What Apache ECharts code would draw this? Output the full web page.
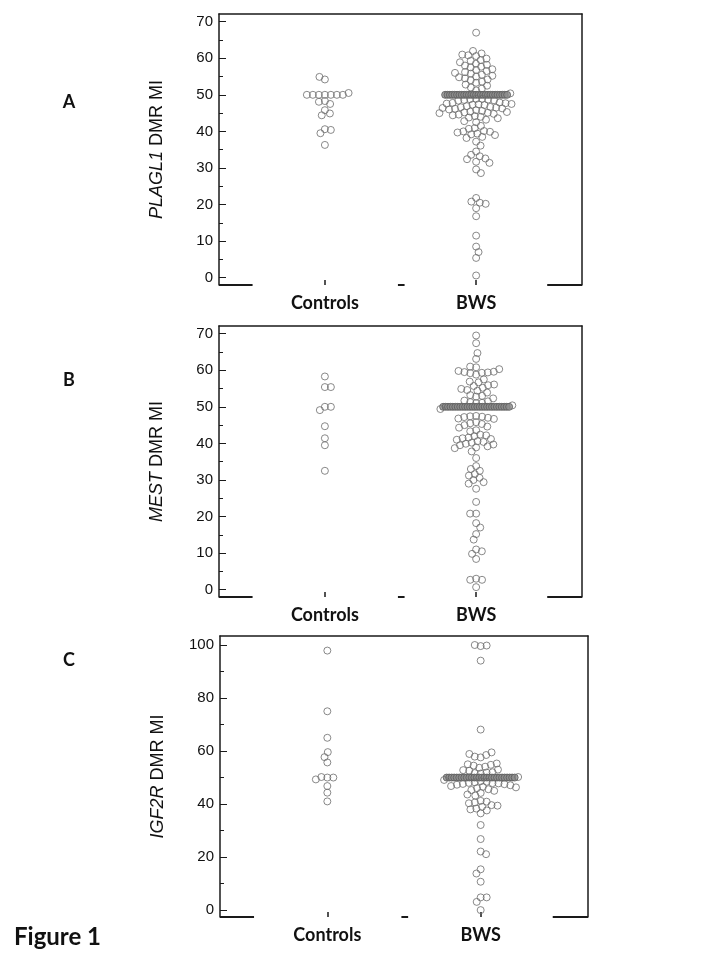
<!DOCTYPE html>
<html><head><meta charset="utf-8">
<script src="https://cdn.jsdelivr.net/npm/echarts@6/dist/echarts.min.js"></script>
<style>html,body{margin:0;padding:0;background:#fff}#c{width:720px;height:960px}</style>
</head><body><div id="c"></div>
<script>
// ---------- data ----------
const categories = ['Controls', 'BWS'];
const panelLetters = ['A', 'B', 'C'];
const genes = ['PLAGL1', 'MEST', 'IGF2R'];
const figureTitle = 'Figure 1';
const yTicksAB = [0, 10, 20, 30, 40, 50, 60, 70];
const yMinorAB = [5, 15, 25, 35, 45, 55, 65];
const yTicksC = [0, 20, 40, 60, 80, 100];
const yMinorC = [10, 30, 50, 70, 90];

const controlsA = [54.9, 54.2, 50.5, 50, 50, 50, 50, 50, 50, 50, 48.3, 48.1, 47.5, 45.8, 44.9, 44.4, 40.6, 40.4, 39.5, 36.3];
const bwsA = [67.0, 62.0, 61.3, 61.0, 60.8, 60.6, 59.9, 59.5, 59.3, 58.9, 58.5, 58.2, 58.0, 57.7, 57.5, 57.0, 56.8, 56.5, 56.2, 56.0,
  55.8, 55.5, 55.2, 55.0, 54.8, 54.5, 54.2, 54.0, 53.6, 53.3, 52.8, 52.5, 52.0, 51.7, 51.2, 50.4,
  50, 50, 50, 50, 50, 50, 50, 50, 50, 50, 50, 50, 50, 50, 50, 50, 50, 50, 50, 50, 50, 50, 50, 50, 50, 50, 50,
  48.9, 48.8, 48.7, 48.6, 48.5, 48.9, 48.4, 47.9, 47.8, 47.7, 47.6, 47.5, 47.4, 47.3, 47.2, 46.9, 46.7, 46.6, 46.5, 46.4,
  46.3, 46.2, 46.0, 45.8, 45.6, 45.4, 45.3, 45.2, 45.1, 45.0, 44.8, 44.6, 44.4, 44.2, 44.0, 43.8, 43.6, 43.2, 42.8, 42.5,
  41.5, 40.9, 40.7, 40.1, 40.0, 39.9, 39.7, 39.4, 39.2, 39.0, 38.5, 38.2, 37.2, 36.1, 34.5, 33.6, 33.2, 32.6, 32.4, 31.7,
  31.4, 29.6, 28.6, 21.8, 20.8, 20.5, 20.2, 19.0, 16.8, 11.5, 8.5, 7.0, 5.4, 0.6];

const controlsB = [58.3, 55.4, 55.4, 50.0, 50.0, 49.1, 44.7, 41.4, 39.5, 32.5];
const bwsB = [69.5, 67.4, 64.7, 63.1, 61.0, 60.8, 60.3, 59.8, 59.6, 59.5, 59.4, 59.3, 59.2, 58.8, 57.5, 56.9, 56.7, 56.1, 55.9, 55.7,
  55.2, 54.9, 54.6, 54.4, 53.9, 53.2, 53.0, 52.8, 52.3, 51.7, 51.5, 51.3, 51.1, 51.0, 50.4,
  50, 50, 50, 50, 50, 50, 50, 50, 50, 50, 50, 50, 50, 50, 50, 50, 50, 50, 50, 50, 50, 50, 50, 50, 50, 50, 50, 50,
  49.4, 47.5, 47.4, 47.3, 47.2, 47.0, 46.8, 46.7, 45.8, 45.5, 45.3, 45.0, 44.6, 44.3, 43.6, 43.3, 42.4, 42.2, 42.0, 41.6,
  41.4, 41.2, 41.0, 40.6, 40.4, 40.2, 39.9, 39.7, 39.5, 39.2, 38.9, 38.7, 37.8, 36.0, 33.8, 33.0, 32.5, 31.6, 31.2, 30.6,
  30.0, 29.4, 29.0, 27.6, 24.0, 20.8, 20.8, 18.2, 17.0, 15.2, 13.7, 11.0, 10.5, 9.8, 8.4, 3.0, 2.7, 2.7, 0.7];

const controlsC = [97.9, 75.0, 65.0, 59.6, 57.7, 55.7, 50.2, 50.0, 50.0, 49.3, 46.8, 44.3, 41.0];
const bwsC = [100.0, 99.8, 99.6, 94.1, 68.1, 59.5, 58.9, 58.5, 57.9, 57.6, 55.3, 55.0, 54.8, 54.5, 54.1, 53.7, 53.0, 52.8, 52.6, 52.0,
  51.9, 51.7, 51.5,
  50, 50, 50, 50, 50, 50, 50, 50, 50, 50, 50, 50, 50, 50, 50, 50, 50, 50, 50, 50, 50, 50, 50, 50, 50, 50, 50, 50,
  50.2, 49.1, 48.6, 48.4, 48.2, 48.0, 47.9, 47.8, 47.6, 47.5, 47.3, 47.1, 46.8, 46.5, 46.3, 46.0, 45.6, 45.3, 45.0, 44.2,
  43.6, 43.2, 41.2, 40.9, 40.6, 40.3, 39.6, 39.4, 39.0, 38.3, 38.0, 37.6, 36.5, 32.1, 26.8, 22.1, 21.1, 15.4, 13.8, 10.7,
  4.8, 4.8, 3.1, 0.0];

// ---------- layout ----------
const XMIN = -0.7, XMAX = 1.7;
const panels = [
  { ctrl: controlsA, bws: bwsA, gene: genes[0], ticks: yTicksAB, minor: yMinorAB,
    grid: { left: 219, top: 14, width: 363, height: 271 }, min: -2, max: 72.1, span: 62, letterY: 102 },
  { ctrl: controlsB, bws: bwsB, gene: genes[1], ticks: yTicksAB, minor: yMinorAB,
    grid: { left: 219, top: 326, width: 363, height: 271 }, min: -2, max: 72.1, span: 66, letterY: 380 },
  { ctrl: controlsC, bws: bwsC, gene: genes[2], ticks: yTicksC, minor: yMinorC,
    grid: { left: 220, top: 636, width: 368, height: 281 }, min: -2.6, max: 103.4, span: 68, letterY: 660 }
];
const bottomSegments = [[-0.7, -0.478], [0.483, 0.527], [1.47, 1.7]];

function swarm(vals, pxPerVal, span) {
  const C = 6, CB = 3.5, MINBAND = 12;
  const pts = vals.map(v => ({ v, y: v * pxPerVal, x: null, band: false }));
  const counts = new Map();
  vals.forEach(v => counts.set(v, (counts.get(v) || 0) + 1));
  let bandV = null;
  counts.forEach((n, v) => {
    if (n >= MINBAND) {
      bandV = v;
      const grp = pts.filter(p => p.v === v);
      const step = span / (n - 1);
      grp.forEach((p, k) => { p.x = -span / 2 + k * step; p.band = true; });
    }
  });
  const placed = pts.filter(p => p.band);
  const ref = bandV === null ? 50 : bandV;
  const rest = pts.filter(p => !p.band).sort((a, b) => Math.abs(a.v - ref) - Math.abs(b.v - ref) || b.v - a.v);
  let alt = 1;
  rest.forEach(p => {
    const cand = [0];
    placed.forEach(q => {
      const c = q.band ? CB : C;
      const dy = Math.abs(q.y - p.y);
      if (dy < c) { const dx = Math.sqrt(c * c - dy * dy); cand.push(q.x + dx, q.x - dx); }
    });
    const ok = x => placed.every(q => {
      const c = q.band ? CB : C; const dy = q.y - p.y, dx = q.x - x;
      return dx * dx + dy * dy >= c * c - 1e-3;
    });
    const nearBand = bandV !== null && Math.abs(p.y - bandV * pxPerVal) < CB;
    const pref = nearBand ? (p.v >= bandV ? 1 : -1) : alt;
    let best = null;
    cand.forEach(x => {
      if (!ok(x)) return;
      if (best === null || Math.abs(x) < Math.abs(best) - 1e-6 ||
          (Math.abs(Math.abs(x) - Math.abs(best)) <= 1e-6 && Math.sign(x) === pref)) best = x;
    });
    p.x = best;
    if (!nearBand && Math.abs(best) > 1e-6) alt = -alt;
    placed.push(p);
  });
  return pts;
}

const FRAME = '#1a1a1a';
const DOT = { color: 'rgba(255,255,255,0)', borderColor: '#6b6b6b', borderWidth: 1 };
const BAND = { color: '#8c8c8c', borderColor: '#5a5a5a', borderWidth: 1 };
const grids = [], xAxes = [], yAxes = [], series = [], graphics = [];
panels.forEach((P, i) => {
  grids.push(Object.assign({ containLabel: false }, P.grid));
  const pxPerVal = P.grid.height / (P.max - P.min);
  const unitsPerPx = (XMAX - XMIN) / P.grid.width;
  xAxes.push({
    gridIndex: i, type: 'value', min: XMIN, max: XMAX, position: 'bottom',
    axisLine: { show: false, onZero: false }, splitLine: { show: false },
    axisTick: { show: true, inside: true, length: 5, customValues: [0, 1], lineStyle: { color: FRAME, width: 1.5 } },
    axisLabel: { customValues: [0, 1], formatter: v => categories[Math.round(v)],
      fontFamily: 'Lato', fontWeight: 'bold', fontSize: 18, color: '#111', margin: 9 }
  });
  xAxes.push({
    gridIndex: i, type: 'value', min: XMIN, max: XMAX, position: 'top',
    axisLine: { show: true, onZero: false, lineStyle: { color: FRAME, width: 1.5 } },
    axisTick: { show: false }, axisLabel: { show: false }, splitLine: { show: false }
  });
  yAxes.push({
    gridIndex: i, type: 'value', min: P.min, max: P.max, position: 'left',
    axisLine: { show: true, onZero: false, lineStyle: { color: FRAME, width: 1.5 } },
    axisTick: { show: true, inside: true, length: 7, customValues: P.ticks, lineStyle: { color: FRAME, width: 1 } },
    axisLabel: { customValues: P.ticks, fontFamily: 'Liberation Sans', fontSize: 15, color: '#111', margin: 6 },
    splitLine: { show: false },
    name: '{i|' + P.gene + '} DMR MI', nameLocation: 'middle', nameRotate: 90, nameGap: 53, nameMoveOverlap: false,
    nameTextStyle: { fontFamily: 'Liberation Sans', fontSize: 18, color: '#111',
      rich: { i: { fontFamily: 'Liberation Sans', fontSize: 18, fontStyle: 'italic', color: '#111' } } }
  });
  yAxes.push({
    gridIndex: i, type: 'value', min: P.min, max: P.max, position: 'left',
    axisLine: { show: false, onZero: false }, splitLine: { show: false }, axisLabel: { show: false },
    axisTick: { show: true, inside: true, length: 4, customValues: P.minor, lineStyle: { color: FRAME, width: 1 } }
  });
  yAxes.push({
    gridIndex: i, type: 'value', min: P.min, max: P.max, position: 'right',
    axisLine: { show: true, onZero: false, lineStyle: { color: FRAME, width: 1.5 } },
    axisTick: { show: false }, axisLabel: { show: false }, splitLine: { show: false }
  });
  [P.ctrl, P.bws].forEach((vals, ci) => {
    const pts = swarm(vals, pxPerVal, P.span);
    const s = {
      type: 'scatter', xAxisIndex: i * 2, yAxisIndex: i * 3, silent: true,
      symbol: 'circle', symbolSize: 7,
      itemStyle: DOT,
      data: pts.map(p => p.band ? { value: [ci + p.x * unitsPerPx, p.v], itemStyle: BAND }
                                 : [ci + p.x * unitsPerPx, p.v])
    };
    if (ci === 0) {
      s.markLine = {
        silent: true, symbol: ['none', 'none'], label: { show: false },
        lineStyle: { color: FRAME, width: 2, type: 'solid' },
        data: bottomSegments.map(sg => [{ coord: [sg[0], P.min] }, { coord: [sg[1], P.min] }])
      };
    }
    series.push(s);
  });
  graphics.push({ type: 'text', x: 69, y: P.letterY, style: { text: panelLetters[i],
    font: 'bold 18px Lato', fill: '#111', align: 'center', verticalAlign: 'middle' } });
});
graphics.push({ type: 'text', x: 14, y: 937, style: { text: figureTitle,
  font: 'bold 24px Lato', fill: '#111', align: 'left', verticalAlign: 'middle' } });

const chart = echarts.init(document.getElementById('c'), null, { renderer: 'canvas' });
chart.setOption({
  animation: false, backgroundColor: '#fff',
  grid: grids, xAxis: xAxes, yAxis: yAxes, series, graphic: graphics
});
</script></body></html>
